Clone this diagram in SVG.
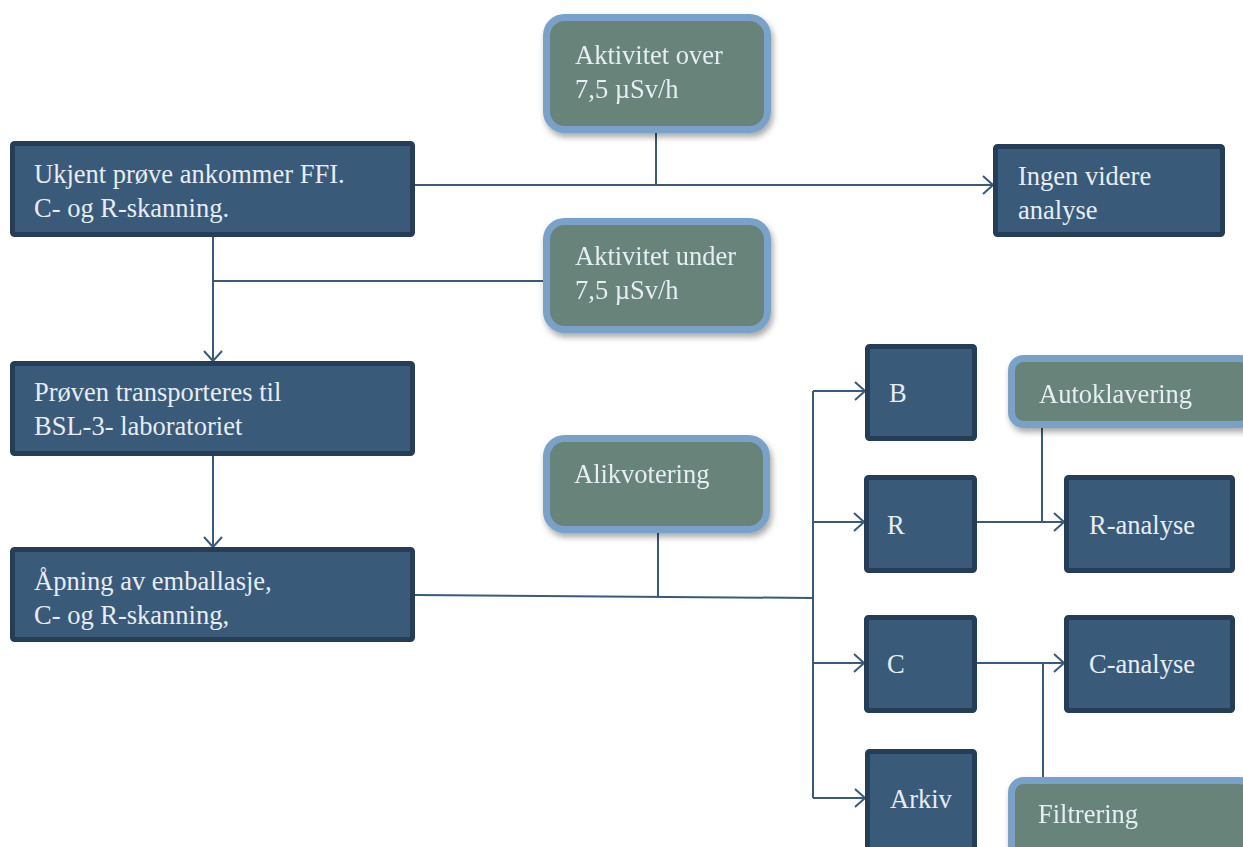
<svg xmlns="http://www.w3.org/2000/svg" width="1243" height="847" viewBox="0 0 1243 847">
<defs>
<style>
.box{fill:#3a5a7a;stroke:#263d57;stroke-width:5}
.grn{fill:#68847a;stroke:#7aa2c8;stroke-width:7}
.t{font-family:"Liberation Serif","Times New Roman",serif;font-size:26.5px;fill:#e6edf3}
.ln{fill:none;stroke:#3a5a7a;stroke-width:2}
</style>
<marker id="ah" viewBox="0 0 12 20" refX="11" refY="10" markerWidth="12" markerHeight="20" markerUnits="userSpaceOnUse" orient="auto">
<path d="M1,1 L11,10 L1,19" fill="none" stroke="#3a5a7a" stroke-width="2"/>
</marker>
<filter id="sh" x="-10%" y="-10%" width="125%" height="130%">
<feDropShadow dx="2" dy="4" stdDeviation="3" flood-color="#000" flood-opacity="0.35"/>
</filter>
</defs>
<rect width="1243" height="847" fill="#fff"/>
<g id="connectors">
<path class="ln" d="M415,185 H993" marker-end="url(#ah)"/>
<path class="ln" d="M656,133 V185"/>
<path class="ln" d="M213,237 V361" marker-end="url(#ah)"/>
<path class="ln" d="M213,281 H543"/>
<path class="ln" d="M213,456 V547" marker-end="url(#ah)"/>
<path class="ln" d="M415,595 L813,598"/>
<path class="ln" d="M658,533 V597"/>
<path class="ln" d="M813,391 V798"/>
<path class="ln" d="M813,391 H865" marker-end="url(#ah)"/>
<path class="ln" d="M813,522 H864" marker-end="url(#ah)"/>
<path class="ln" d="M813,663 H864" marker-end="url(#ah)"/>
<path class="ln" d="M813,798 H865" marker-end="url(#ah)"/>
<path class="ln" d="M977,522 H1064" marker-end="url(#ah)"/>
<path class="ln" d="M1042,428 V522"/>
<path class="ln" d="M977,663 H1064" marker-end="url(#ah)"/>
<path class="ln" d="M1043,777 V663"/>
</g>
<g id="n-ukjent"><rect class="box" x="12.5" y="143.5" width="400" height="91" rx="2"/><text class="t" x="34" y="183">Ukjent prøve ankommer FFI.</text><text class="t" x="34" y="217">C- og R-skanning.</text></g>
<g id="n-over" filter="url(#sh)"><rect class="grn" x="546.5" y="17.5" width="221" height="112" rx="18"/><text class="t" x="575" y="64">Aktivitet over</text><text class="t" x="575" y="98">7,5 µSv/h</text></g>
<g id="n-ingen"><rect class="box" x="995.5" y="146.5" width="227" height="88" rx="2"/><text class="t" x="1018" y="185">Ingen videre</text><text class="t" x="1018" y="219">analyse</text></g>
<g id="n-under" filter="url(#sh)"><rect class="grn" x="546.5" y="221.5" width="221" height="108" rx="18"/><text class="t" x="575" y="265">Aktivitet under</text><text class="t" x="575" y="299">7,5 µSv/h</text></g>
<g id="n-proven"><rect class="box" x="12.5" y="363.5" width="400" height="90" rx="2"/><text class="t" x="34" y="401">Prøven transporteres til</text><text class="t" x="34" y="435">BSL-3- laboratoriet</text></g>
<g id="n-apning"><rect class="box" x="12.5" y="549.5" width="400" height="90" rx="2"/><text class="t" x="34" y="590">Åpning av emballasje,</text><text class="t" x="34" y="624">C- og R-skanning,</text></g>
<g id="n-alik" filter="url(#sh)"><rect class="grn" x="546.5" y="438.5" width="220" height="91" rx="18"/><text class="t" x="574" y="483">Alikvotering</text></g>
<g id="n-b"><rect class="box" x="867.5" y="346.5" width="107" height="92" rx="2"/><text class="t" x="889" y="402">B</text></g>
<g id="n-r"><rect class="box" x="866.5" y="477.5" width="108" height="93" rx="2"/><text class="t" x="887" y="534">R</text></g>
<g id="n-c"><rect class="box" x="866.5" y="617.5" width="108" height="93" rx="2"/><text class="t" x="887" y="673">C</text></g>
<g id="n-arkiv"><rect class="box" x="867.5" y="751.5" width="107" height="98" rx="2"/><text class="t" x="890" y="808">Arkiv</text></g>
<g id="n-auto" filter="url(#sh)"><rect class="grn" x="1011.5" y="358.5" width="240" height="66" rx="12"/><text class="t" x="1039" y="403">Autoklavering</text></g>
<g id="n-ranalyse"><rect class="box" x="1066.5" y="477.5" width="166" height="93" rx="2"/><text class="t" x="1089" y="534">R-analyse</text></g>
<g id="n-canalyse"><rect class="box" x="1066.5" y="617.5" width="166" height="93" rx="2"/><text class="t" x="1089" y="673">C-analyse</text></g>
<g id="n-filt" filter="url(#sh)"><rect class="grn" x="1011.5" y="780.5" width="240" height="80" rx="12"/><text class="t" x="1038" y="823">Filtrering</text></g>
</svg>
